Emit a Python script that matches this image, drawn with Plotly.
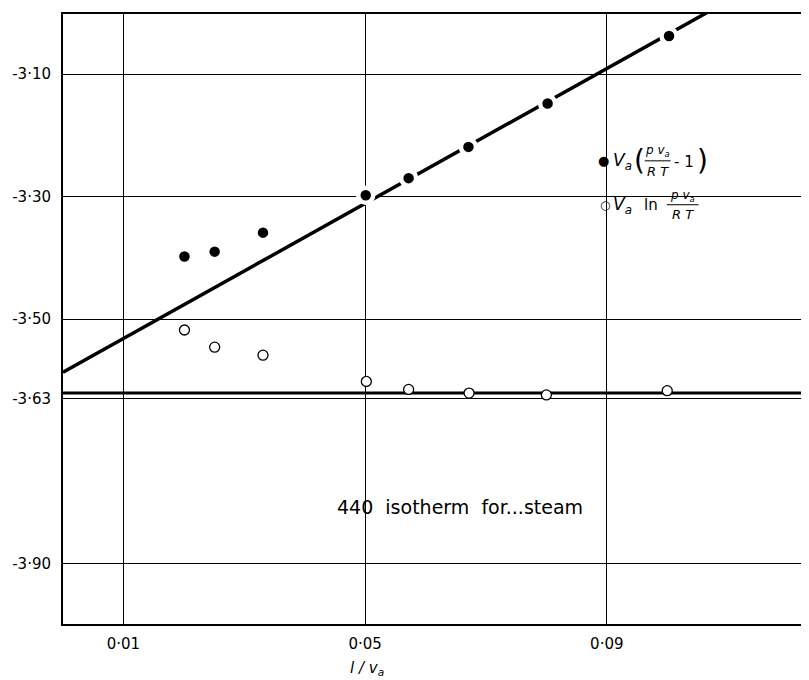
import plotly.graph_objects as go

# ---- data ----
filled_x = [0.0201, 0.0251, 0.0331, 0.0501, 0.0572, 0.0671, 0.0802, 0.1003]
filled_y = [-3.398, -3.390, -3.359, -3.298, -3.270, -3.219, -3.148, -3.038]

open_x = [0.0201, 0.0251, 0.0331, 0.0502, 0.0572, 0.0672, 0.0800, 0.1000]
open_y = [-3.518, -3.546, -3.559, -3.602, -3.615, -3.621, -3.624, -3.617]

fit_x = [0.0, 0.1067]
fit_y = [-3.587, -2.999]

flat_x = [0.0, 0.1228]
flat_y = [-3.621, -3.621]

x_ticks = [0.01, 0.05, 0.09]
x_ticktext = ["0·01", "0·05", "0·09"]
y_ticks = [-3.10, -3.30, -3.50, -3.63, -3.90]
y_ticktext = ["-3·10", "-3·30", "-3·50", "-3·63", "-3·90"]

FONT = "DejaVu Sans"

fig = go.Figure()
fig.add_trace(go.Scatter(x=fit_x, y=fit_y, mode="lines",
                         line=dict(color="black", width=3.5), showlegend=False))
fig.add_trace(go.Scatter(x=flat_x, y=flat_y, mode="lines",
                         line=dict(color="black", width=3), showlegend=False))
fig.add_trace(go.Scatter(x=filled_x, y=filled_y, mode="markers",
                         marker=dict(size=15, color="black",
                                     line=dict(color="white", width=4.5)),
                         showlegend=False))
fig.add_trace(go.Scatter(x=open_x, y=open_y, mode="markers",
                         marker=dict(size=10, color="white",
                                     line=dict(color="black", width=1.3)),
                         showlegend=False))

# page pixel -> data helpers for annotation placement
def dx(px):
    return 0.01 + (px - 121) / 6062.0

def dy(py):
    return -3.10 - (py - 73) / 613.75

ann = []
def txt(px, py, s, size=14, family=FONT):
    ann.append(dict(x=dx(px), y=dy(py), xref="x", yref="y", text=s, showarrow=False,
                    font=dict(family=family, size=size, color="black"),
                    xanchor="center", yanchor="middle"))

# legend 1
txt(603, 160, "●", 13)
txt(622, 161, "<i>V<sub>a</sub></i>", 17)
txt(639, 160, "(", 28)
txt(657, 150, "<i>p v<sub>a</sub></i>", 12)
txt(657, 171, "<i>R T</i>", 13)
txt(683, 161, "- 1", 15)
txt(702, 160, ")", 28)
# legend 2
txt(604, 204, "○", 12)
txt(622, 205, "<i>V<sub>a</sub></i>", 17)
txt(650, 204, "ln", 15)
txt(682, 195, "<i>p v<sub>a</sub></i>", 12)
txt(682, 214, "<i>R T</i>", 13)

ann.append(dict(x=dx(459), y=dy(507), xref="x", yref="y",
                text="440  isotherm  for...steam", showarrow=False,
                font=dict(family=FONT, size=19, color="black")))

# axis title placed under the axis
ann.append(dict(x=dx(365), y=-(669 - 624) / 611.0, xref="x", yref="paper",
                text="<i>l / v<sub>a</sub></i>", showarrow=False,
                font=dict(family=FONT, size=15, color="black"),
                xanchor="center", yanchor="middle"))

shapes = [
    dict(type="line", xref="x", yref="y", x0=dx(644), x1=dx(670), y0=dy(160), y1=dy(160),
         line=dict(color="black", width=1)),
    dict(type="line", xref="x", yref="y", x0=dx(666), x1=dx(698), y0=dy(204), y1=dy(204),
         line=dict(color="black", width=1)),
]

fig.update_layout(
    width=801, height=672,
    margin=dict(l=53, r=4, t=5, b=56),
    paper_bgcolor="white", plot_bgcolor="white",
    font=dict(family=FONT, size=14, color="black"),
    annotations=ann, shapes=shapes,
    xaxis=dict(range=[0.0, 0.1228], tickvals=x_ticks, ticktext=x_ticktext,
               showgrid=True, gridcolor="black", gridwidth=1, zeroline=False,
               showline=True, linecolor="black", linewidth=2, mirror=True,
               ticks="", ticklabelstandoff=5,
               tickfont=dict(family=FONT, size=15, color="black")),
    yaxis=dict(range=[-3.998, -3.002], tickvals=y_ticks, ticktext=y_ticktext,
               showgrid=True, gridcolor="black", gridwidth=1, zeroline=False,
               showline=True, linecolor="black", linewidth=2, mirror=False,
               ticks="", ticklabelstandoff=7,
               tickfont=dict(family=FONT, size=15, color="black")),
)

fig.write_html("out.html")
